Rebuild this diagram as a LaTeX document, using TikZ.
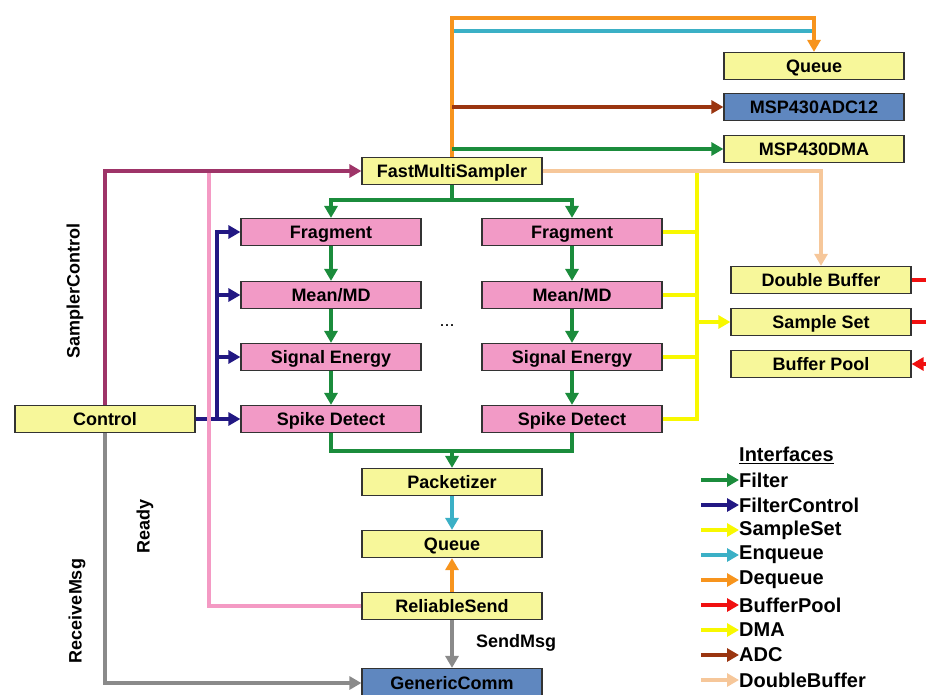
\documentclass[tikz,border=0pt]{standalone}
\usepackage{fontspec}
\setmainfont{Liberation Sans}
\usetikzlibrary{arrows.meta}
\definecolor{boxyellow}{HTML}{F7F79A}
\definecolor{boxpink}{HTML}{F29AC6}
\definecolor{boxblue}{HTML}{5F87BF}
\definecolor{cgreen}{HTML}{1B8C3C}
\definecolor{cnavy}{HTML}{221883}
\definecolor{cyellow}{HTML}{F8F800}
\definecolor{cteal}{HTML}{3BB0C6}
\definecolor{corange}{HTML}{F7941D}
\definecolor{cred}{HTML}{F01010}
\definecolor{cbrown}{HTML}{9A3510}
\definecolor{cpeach}{HTML}{F6C79A}
\definecolor{cmaroon}{HTML}{9E3468}
\definecolor{cpinkline}{HTML}{F49AC4}
\definecolor{cgray}{HTML}{8A8A8A}
\begin{document}
\begin{tikzpicture}[x=1pt,y=-1pt,
 box/.style={draw=black!80, line width=1.2pt, minimum width=180pt, minimum height=27pt, inner sep=0pt, text height=13pt, text depth=0pt, font=\fontsize{18}{20}\selectfont\bfseries},
 ybox/.style={box, fill=boxyellow},
 pbox/.style={box, fill=boxpink},
 bbox/.style={box, fill=boxblue},
 conn/.style={line width=3.5pt},
 arr/.style={conn, -{Triangle[length=12pt,width=13pt]}},
 lbl/.style={font=\fontsize{18}{20}\selectfont\bfseries, inner sep=0pt},
 leg/.style={font=\fontsize{20}{22}\selectfont\bfseries, anchor=west, inner sep=0pt},
]
\useasboundingbox (0,0) rectangle (926,694);
% nodes
\node[ybox] (qtop) at (814,66) {Queue};
\node[bbox] (adc) at (814,107) {MSP430ADC12};
\node[ybox] (dma) at (814,149) {MSP430DMA};
\node[ybox] (fms) at (452,171) {FastMultiSampler};
\node[pbox] (frag1) at (331,232) {Fragment};
\node[pbox] (mean1) at (331,295) {Mean/MD};
\node[pbox] (sig1) at (331,357) {Signal Energy};
\node[pbox] (sd1) at (331,419) {Spike Detect};
\node[pbox] (frag2) at (572,232) {Fragment};
\node[pbox] (mean2) at (572,295) {Mean/MD};
\node[pbox] (sig2) at (572,357) {Signal Energy};
\node[pbox] (sd2) at (572,419) {Spike Detect};
\node[ybox] (dbuf) at (821,280) {Double Buffer};
\node[ybox] (sset) at (821,322) {Sample Set};
\node[ybox] (bpool) at (821,364) {Buffer Pool};
\node[ybox] (ctrl) at (105,419) {Control};
\node[ybox] (pack) at (452,482) {Packetizer};
\node[ybox] (qbot) at (452,544) {Queue};
\node[ybox] (rsend) at (452,606) {ReliableSend};
\node[bbox, minimum height=29pt] (gcomm) at (452,683) {GenericComm};
\node[font=\fontsize{18}{20}\selectfont] (dots) at (447,326) {...};
% helper coordinates
\coordinate (yO) at (0,18);
\coordinate (yT) at (0,31);
\coordinate (yG1) at (0,200);
\coordinate (yG2) at (0,451);
\coordinate (xY) at (697,0);
\coordinate (xN) at (217,0);
\coordinate (xP) at (209,0);
\coordinate (xR) at (926,0);
% top connectors
\draw[conn,cteal] (fms.north |- yT) -- (qtop.north |- yT);
\draw[arr,corange] (fms.north) -- (fms.north |- yO) -| (qtop.north);
\draw[arr,cbrown] (fms.north |- adc.west) -- (adc.west);
\draw[arr,cgreen] (fms.north |- dma.west) -- (dma.west);
% yellow sample set bus
\draw[conn,cyellow] (sd2.east) -| (xY |- fms.east);
\draw[conn,cyellow] (frag2.east) -- (frag2.east -| xY);
\draw[conn,cyellow] (mean2.east) -- (mean2.east -| xY);
\draw[conn,cyellow] (sig2.east) -- (sig2.east -| xY);
\draw[arr,cyellow] (sset.west -| xY) -- (sset.west);
% peach
\draw[arr,cpeach] (fms.east) -| (dbuf.north);
% red
\draw[conn,cred] (dbuf.east) -- (dbuf.east -| xR);
\draw[conn,cred] (sset.east) -- (sset.east -| xR);
\draw[arr,cred] (bpool.east -| xR) -- (bpool.east);
% filter chain
\draw[conn,cgreen] (fms.south) -- (fms.south |- yG1);
\draw[arr,cgreen] (fms.south |- yG1) -| (frag1.north);
\draw[arr,cgreen] (fms.south |- yG1) -| (frag2.north);
\draw[arr,cgreen] (frag1) -- (mean1);
\draw[arr,cgreen] (mean1) -- (sig1);
\draw[arr,cgreen] (sig1) -- (sd1);
\draw[arr,cgreen] (frag2) -- (mean2);
\draw[arr,cgreen] (mean2) -- (sig2);
\draw[arr,cgreen] (sig2) -- (sd2);
\draw[conn,cgreen] (sd1.south) |- (sd2.south |- yG2) -- (sd2.south);
\draw[arr,cgreen] (pack.north |- yG2) -- (pack.north);
% bottom chain
\draw[arr,cteal] (pack) -- (qbot);
\draw[arr,corange] (rsend) -- (qbot);
\draw[arr,cgray] (rsend) -- (gcomm);
\node[lbl] (sendmsg) at (516,643) {SendMsg};
% control
\draw[arr,cgray] (ctrl.south) |- (gcomm.west);
\draw[arr,cnavy] (ctrl.east) -| (xN |- frag1.west) -- (frag1.west);
\draw[arr,cnavy] (xN |- mean1.west) -- (mean1.west);
\draw[arr,cnavy] (xN |- sig1.west) -- (sig1.west);
\draw[arr,cnavy] (xN |- sd1.west) -- (sd1.west);
\draw[conn,cpinkline] (rsend.west) -| (xP |- fms.west);
\draw[arr,cmaroon] (ctrl.north) |- (fms.west);
\node[lbl, rotate=90] (samplerctl) at (75,291) {SamplerControl};
\node[lbl, rotate=90] (recvmsg) at (77,611) {ReceiveMsg};
\node[lbl, rotate=90] (ready) at (145,526) {Ready};
% legend
\node[leg] (legtitle) at (739,455) {\underline{Interfaces}};
\foreach \i/\t/\c in {0/Filter/cgreen, 1/FilterControl/cnavy, 2/SampleSet/cyellow, 3/Enqueue/cteal, 4/Dequeue/corange, 5/BufferPool/cred, 6/DMA/cyellow, 7/ADC/cbrown, 8/DoubleBuffer/cpeach}{
  \node[leg] (leg\i) at (739,480+25*\i) {\t};
  \coordinate (lega\i) at (701,480+25*\i);
  \draw[arr,\c] (lega\i) -- (leg\i.west);
}
\end{tikzpicture}
\end{document}
